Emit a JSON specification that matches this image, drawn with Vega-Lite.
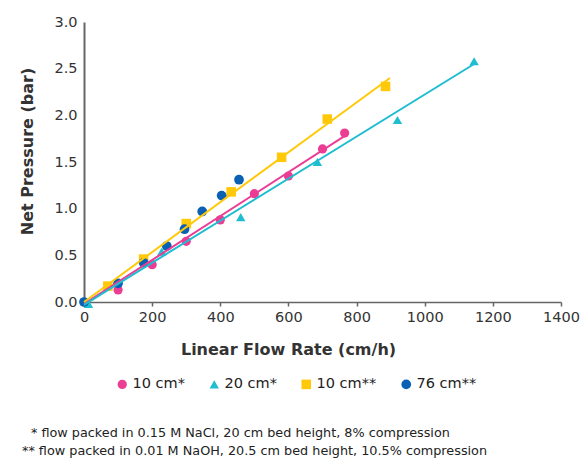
{
  "$schema": "https://vega.github.io/schema/vega-lite/v6.json",
  "width": 477,
  "height": 280,
  "autosize": {"type": "none"},
  "padding": {"left": 84, "top": 22, "right": 22, "bottom": 157},
  "background": "white",
  "config": {"view": {"stroke": null}, "font": "DejaVu Sans"},
  "title": {
    "text": ["\u200b\u2002\u2009* flow packed in 0.15 M NaCl, 20 cm bed height, 8% compression", "** flow packed in 0.01 M NaOH, 20.5 cm bed height, 10.5% compression"],
    "orient": "bottom", "anchor": "start", "frame": "group", "dx": -62, "offset": 36,
    "fontSize": 12.8, "fontWeight": "normal", "color": "#222", "lineHeight": 18, "font": "DejaVu Sans"
  },
  "datasets": {
    "pts": [
      {"series": "10 cm*", "flow": 100, "pressure": 0.13},
      {"series": "10 cm*", "flow": 200, "pressure": 0.40},
      {"series": "10 cm*", "flow": 300, "pressure": 0.65},
      {"series": "10 cm*", "flow": 400, "pressure": 0.88},
      {"series": "10 cm*", "flow": 500, "pressure": 1.16},
      {"series": "10 cm*", "flow": 600, "pressure": 1.35},
      {"series": "10 cm*", "flow": 700, "pressure": 1.64},
      {"series": "10 cm*", "flow": 765, "pressure": 1.81},
      {"series": "20 cm*", "flow": 13, "pressure": -0.02},
      {"series": "20 cm*", "flow": 228, "pressure": 0.54},
      {"series": "20 cm*", "flow": 460, "pressure": 0.91},
      {"series": "20 cm*", "flow": 685, "pressure": 1.50},
      {"series": "20 cm*", "flow": 920, "pressure": 1.95},
      {"series": "20 cm*", "flow": 1145, "pressure": 2.58},
      {"series": "10 cm**", "flow": 70, "pressure": 0.17},
      {"series": "10 cm**", "flow": 175, "pressure": 0.46},
      {"series": "10 cm**", "flow": 300, "pressure": 0.84},
      {"series": "10 cm**", "flow": 432, "pressure": 1.18},
      {"series": "10 cm**", "flow": 580, "pressure": 1.55},
      {"series": "10 cm**", "flow": 714, "pressure": 1.96},
      {"series": "10 cm**", "flow": 885, "pressure": 2.31},
      {"series": "76 cm**", "flow": 0, "pressure": 0.0},
      {"series": "76 cm**", "flow": 100, "pressure": 0.20},
      {"series": "76 cm**", "flow": 175, "pressure": 0.42},
      {"series": "76 cm**", "flow": 243, "pressure": 0.60},
      {"series": "76 cm**", "flow": 295, "pressure": 0.78},
      {"series": "76 cm**", "flow": 347, "pressure": 0.97},
      {"series": "76 cm**", "flow": 404, "pressure": 1.14},
      {"series": "76 cm**", "flow": 455, "pressure": 1.31}
    ],
    "trend": [
      {"series": "10 cm*", "flow": 0, "pressure": -0.02},
      {"series": "10 cm*", "flow": 770, "pressure": 1.79},
      {"series": "20 cm*", "flow": 0, "pressure": -0.03},
      {"series": "20 cm*", "flow": 1145, "pressure": 2.55},
      {"series": "10 cm**", "flow": 0, "pressure": 0.0},
      {"series": "10 cm**", "flow": 898, "pressure": 2.40}
    ]
  },
  "encoding": {
    "x": {
      "field": "flow", "type": "quantitative",
      "scale": {"domain": [0, 1400], "nice": false, "zero": false},
      "axis": {
        "title": "Linear Flow Rate (cm/h)", "values": [0, 200, 400, 600, 800, 1000, 1200, 1400],
        "format": "d", "grid": false, "labelFlush": false, "domainColor": "#666", "domainWidth": 1.5,
        "tickColor": "#666", "tickWidth": 1.5, "tickSize": 4, "labelPadding": 4,
        "labelFontSize": 14.5, "labelColor": "#333", "labelFont": "DejaVu Sans",
        "titleFontSize": 16, "titleFontWeight": "bold", "titleColor": "#333", "titleFont": "DejaVu Sans",
        "titleX": 204, "titleY": 47, "titleBaseline": "middle", "titleAlign": "center"
      }
    },
    "y": {
      "field": "pressure", "type": "quantitative",
      "scale": {"domain": [0, 3], "nice": false, "zero": false},
      "axis": {
        "title": "Net Pressure (bar)", "values": [0, 0.5, 1, 1.5, 2, 2.5, 3],
        "format": ".1f", "grid": false, "labelFlush": false, "domainColor": "#666", "domainWidth": 2,
        "ticks": false, "tickSize": 0, "labelPadding": 7,
        "labelFontSize": 14.5, "labelColor": "#333", "labelFont": "DejaVu Sans",
        "titleFontSize": 16, "titleFontWeight": "bold", "titleColor": "#333", "titleFont": "DejaVu Sans",
        "titleX": -57, "titleY": 129, "titleBaseline": "middle", "titleAlign": "center", "titleAngle": -90
      }
    }
  },
  "layer": [
    {
      "data": {"name": "pts"},
      "mark": {"type": "point", "filled": true, "opacity": 1, "strokeWidth": 0},
      "encoding": {
        "color": {
          "field": "series", "type": "nominal",
          "scale": {"domain": ["10 cm*", "20 cm*", "10 cm**", "76 cm**"], "range": ["#EC3D94", "#1FBDD0", "#FFC90A", "#0A60B2"]},
          "legend": {"orient": "none", "legendX": 31, "legendY": 355, "direction": "horizontal", "title": null,
            "labelFontSize": 14.5, "labelColor": "#222", "labelFont": "DejaVu Sans", "symbolStrokeWidth": 0,
            "columnPadding": 22, "labelOffset": 3, "padding": 0}
        },
        "shape": {
          "field": "series", "type": "nominal",
          "scale": {"domain": ["10 cm*", "20 cm*", "10 cm**", "76 cm**"], "range": ["circle", "triangle-up", "square", "circle"]},
          "legend": {"orient": "none", "legendX": 31, "legendY": 355, "direction": "horizontal", "title": null}
        },
        "size": {
          "field": "series", "type": "nominal",
          "scale": {"domain": ["10 cm*", "20 cm*", "10 cm**", "76 cm**"], "range": [85, 95, 85, 55]},
          "legend": {"orient": "none", "legendX": 31, "legendY": 355, "direction": "horizontal", "title": null}
        }
      }
    },
    {
      "data": {"name": "trend"},
      "mark": {"type": "line", "strokeWidth": 2},
      "encoding": {
        "stroke": {
          "field": "series", "type": "nominal",
          "scale": {"domain": ["10 cm*", "20 cm*", "10 cm**"], "range": ["#EC3D94", "#1FBDD0", "#FFC90A"]},
          "legend": null
        },
        "detail": {"field": "series", "type": "nominal"}
      }
    }
  ]
}
